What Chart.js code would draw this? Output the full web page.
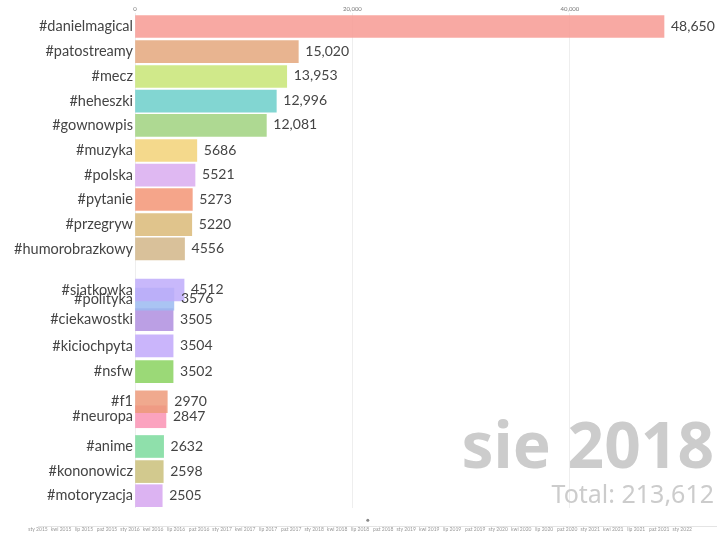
<!DOCTYPE html>
<html>
<head>
<meta charset="utf-8">
<script src="https://cdn.jsdelivr.net/npm/chart.js@4"></script>
<style>
body { margin: 0; background: #fff; width: 720px; height: 540px; overflow: hidden; position: relative; }
canvas { position: absolute; left: 0; }
#bars { top: 0; }
#timeline { top: 515px; }
</style>
</head>
<body>
<canvas id="bars" width="720" height="540"></canvas>
<canvas id="timeline" width="720" height="25"></canvas>
<script>
// dane
const tags = ['#danielmagical', '#patostreamy', '#mecz', '#heheszki', '#gownowpis', '#muzyka', '#polska', '#pytanie', '#przegryw', '#humorobrazkowy', '#siatkowka', '#polityka', '#ciekawostki', '#kiciochpyta', '#nsfw', '#f1', '#neuropa', '#anime', '#kononowicz', '#motoryzacja'];
const counts = [48650, 15020, 13953, 12996, 12081, 5686, 5521, 5273, 5220, 4556, 4512, 3576, 3505, 3504, 3502, 2970, 2847, 2632, 2598, 2505];
// pozycja w rankingu w tej klatce animacji (ulamkowa, bo slupki sie mijaja)
const ranks = [1, 2.02, 3.03, 4.03, 5.02, 6.04, 7.04, 8.03, 9.05, 10.04, 11.71, 12.08, 12.91, 13.98, 15.03, 16.25, 16.86, 18.07, 19.09, 20.07];
const xTicks = [0, 20000, 40000];
const monthTicks = [0, 3, 6, 9, 12, 15, 18, 21, 24, 27, 30, 33, 36, 39, 42, 45, 48, 51, 54, 57, 60, 63, 66, 69, 72, 75, 78, 81, 84];
const monthLabels = ['sty 2015', 'kwi 2015', 'lip 2015', 'paź 2015', 'sty 2016', 'kwi 2016', 'lip 2016', 'paź 2016', 'sty 2017', 'kwi 2017', 'lip 2017', 'paź 2017', 'sty 2018', 'kwi 2018', 'lip 2018', 'paź 2018', 'sty 2019', 'kwi 2019', 'lip 2019', 'paź 2019', 'sty 2020', 'kwi 2020', 'lip 2020', 'paź 2020', 'sty 2021', 'kwi 2021', 'lip 2021', 'paź 2021', 'sty 2022'];
const currentMonth = [43];
const dateLabel = 'sie 2018';
const totalLabel = 'Total: 213,612';

const barColors = ['#f8a9a3', '#e8b490', '#d0e98a', '#82d6d2', '#aed992', '#f4d98c', '#dfb8f2', '#f5a58a', '#e0c48c', '#d9c19a', '#c8b8fb', '#aac4f3', '#bb9fe4', '#cab5fb', '#9bd977', '#f0a98e', '#fba3bf', '#8fe0ab', '#d2c98e', '#dcb3f2'];

const FONT = 'Lato, sans-serif';
const BIG_FONT = '"Noto Sans", sans-serif';

// kolor docelowy na bialym tle -> polprzezroczysty, zeby nakladki sie mieszaly
function fade(hex, a) {
    const n = parseInt(hex.slice(1), 16);
    const c = [n >> 16, (n >> 8) & 255, n & 255].map(v => Math.max(0, Math.round((v - 255 * (1 - a)) / a)));
    return `rgba(${c[0]},${c[1]},${c[2]},${a})`;
}

function formatCount(v) {
    return v >= 10000 ? v.toLocaleString('en-US') : String(v);
}

const labelsPlugin = {
    id: 'labels',
    afterDatasetsDraw(chart) {
        const ctx = chart.ctx;
        const xs = chart.scales.x, ys = chart.scales.y;
        ctx.save();
        ctx.font = '14px ' + FONT;
        ctx.fillStyle = '#444';
        ctx.textAlign = 'left';
        ctx.textBaseline = 'middle';
        counts.forEach((v, i) => ctx.fillText(formatCount(v), xs.getPixelForValue(v) + 7, ys.getPixelForValue(ranks[i]) - 0.5));
        ctx.textAlign = 'right';
        ctx.textBaseline = 'alphabetic';
        ctx.fillStyle = '#cccccc';
        ctx.font = 'bold 64px ' + BIG_FONT;
        ctx.fillText(dateLabel, 714, 468);
        ctx.font = '25px ' + BIG_FONT;
        ctx.fillText(totalLabel, 714, 503);
        ctx.restore();
    }
};

new Chart(document.getElementById('bars'), {
    type: 'bar',
    plugins: [labelsPlugin],
    data: {
        datasets: [{
            // od konca: wyzsze miejsce w rankingu rysowane na wierzchu
            data: counts.map((v, i) => ({ x: v, y: ranks[i] })).reverse(),
            backgroundColor: barColors.map(c => fade(c, 0.85)).reverse(),
            barThickness: 22,
            borderWidth: 0
        }]
    },
    options: {
        indexAxis: 'y',
        responsive: false,
        animation: false,
        layout: { padding: { bottom: 32 } },
        plugins: { legend: { display: false }, tooltip: { enabled: false } },
        scales: {
            x: {
                type: 'linear',
                position: 'top',
                min: 0,
                max: 53800,
                afterFit: axis => { axis.height = 13; axis.paddingLeft = 0; axis.paddingRight = 0; },
                afterBuildTicks: axis => { axis.ticks = xTicks.map(v => ({ value: v })); },
                ticks: { padding: 0, maxRotation: 0, font: { family: FONT, size: 6 }, color: '#777', callback: v => v.toLocaleString('en-US') },
                grid: { color: '#eeeeee', lineWidth: 1, drawTicks: false },
                border: { display: false }
            },
            y: {
                type: 'linear',
                reverse: true,
                offset: false, // bar ustawia to domyslnie, a tu os jest liczbowa
                min: 0.45,
                max: 20.57,
                afterFit: axis => { axis.width = 135; axis.paddingTop = 0; axis.paddingBottom = 0; },
                afterBuildTicks: axis => { axis.ticks = ranks.map(v => ({ value: v })); },
                ticks: {
                    autoSkip: false,
                    padding: 2,
                    font: { family: FONT, size: 14.5 },
                    color: '#444',
                    callback: (v, i) => tags[i]
                },
                grid: { display: false, drawTicks: false, offset: false },
                border: { display: false }
            }
        }
    }
});

// os czasu na dole
new Chart(document.getElementById('timeline'), {
    type: 'scatter',
    data: {
        datasets: [{
            data: currentMonth.map(m => ({ x: m, y: 1 })),
            pointStyle: 'circle',
            radius: 1.5,
            backgroundColor: '#888',
            borderWidth: 0,
            clip: false
        }]
    },
    options: {
        responsive: false,
        animation: false,
        layout: { padding: { left: 38, right: 4 } },
        plugins: { legend: { display: false }, tooltip: { enabled: false } },
        scales: {
            x: {
                type: 'linear',
                min: 0,
                max: 88.4,
                afterFit: axis => { axis.height = 14; },
                afterBuildTicks: axis => { axis.ticks = monthTicks.map(v => ({ value: v })); },
                ticks: {
                    autoSkip: false,
                    maxRotation: 0,
                    padding: 0,
                    font: { family: FONT, size: 5 },
                    color: '#999',
                    callback: (v, i) => monthLabels[i]
                },
                grid: { display: false, drawTicks: false },
                border: { color: '#e4e4e4' }
            },
            y: { display: false, min: 0, max: 1.2 }
        }
    }
});
</script>
</body>
</html>
